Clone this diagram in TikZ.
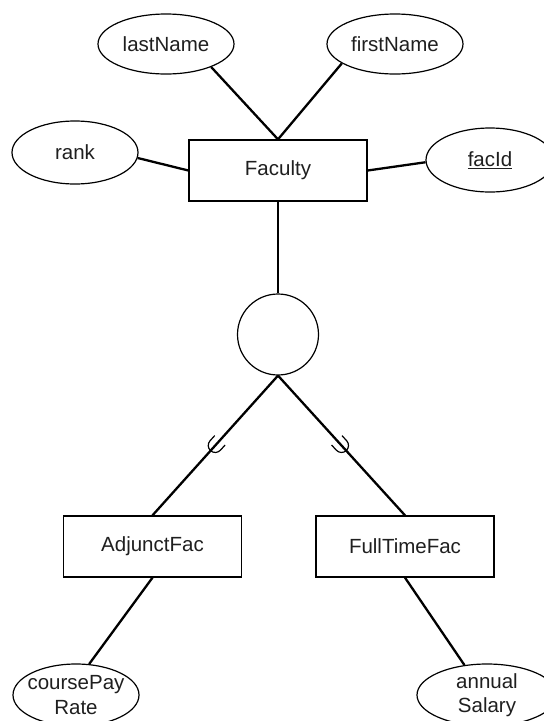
\documentclass[tikz,border=0pt]{standalone}
\usepackage{fontspec}
\setmainfont{Liberation Sans}
\usetikzlibrary{shapes.geometric,decorations.markings}
\begin{document}
\begin{tikzpicture}[x=1pt,y=-1pt,
  every node/.style={font=\fontsize{20.5}{24.5}\selectfont, text=black!88},
  entity/.style={draw, rectangle, minimum width=178pt, minimum height=61pt, line width=1.3pt, inner sep=0pt},
  attr/.style={draw, ellipse, line width=1.2pt, inner sep=0pt},
  isa/.style={draw, circle, minimum size=81pt, line width=1.2pt, inner sep=0pt},
  conn/.style={line width=2.3pt},
  subsetmark/.style={postaction={decorate}, decoration={markings,
    mark=at position 0.5 with {\draw[line width=1.2pt] (-7pt,7pt) -- (0pt,7pt) arc[start angle=90,end angle=-90,radius=7pt] -- (-7pt,-7pt);}}}
]
\useasboundingbox (0,0) rectangle (544,721);
\clip (0,0) rectangle (544,721);

% entities
\node[entity] (fac) at (278,170.5) {Faculty};
\node[entity] (adj) at (152.5,546.5) {AdjunctFac};
\node[entity] (full) at (405,546.5) {FullTimeFac};

% specialization circle
\node[isa] (isa) at (278,334.5) {};

% attributes
\node[attr, minimum width=136pt, minimum height=60pt, label=center:lastName] (ln) at (166,44) {};
\node[attr, minimum width=136pt, minimum height=60pt, label=center:firstName] (fn) at (395,44) {};
\node[attr, minimum width=126pt, minimum height=63pt, label=center:rank] (rank) at (75,152.5) {};
\node[attr, minimum width=128pt, minimum height=64pt, label=center:\underline{facId}] (fid) at (490,160) {};
\node[attr, minimum width=126pt, minimum height=62pt, label={[align=center]center:coursePay\\Rate}] (cpr) at (76,695) {};
\node[attr, minimum width=140pt, minimum height=62pt, label={[align=center]center:annual\\Salary}] (sal) at (487,695) {};

% connectors
\draw[conn] (fac.north) -- (ln.-27);
\draw[conn] (fac.north) -- (fn.200);
\draw[conn] (fac.west) -- (rank.-5);
\draw[conn] (fac.east) -- (fid.182);
\draw[conn] (fac.south) -- (isa.north);
\draw[conn, subsetmark] (isa.south) -- (adj.north);
\draw[conn, subsetmark] (isa.south) -- (full.north);
\draw[conn] (adj.south) -- (cpr.67);
\draw[conn] (full.south) -- (sal.127);
\end{tikzpicture}
\end{document}
